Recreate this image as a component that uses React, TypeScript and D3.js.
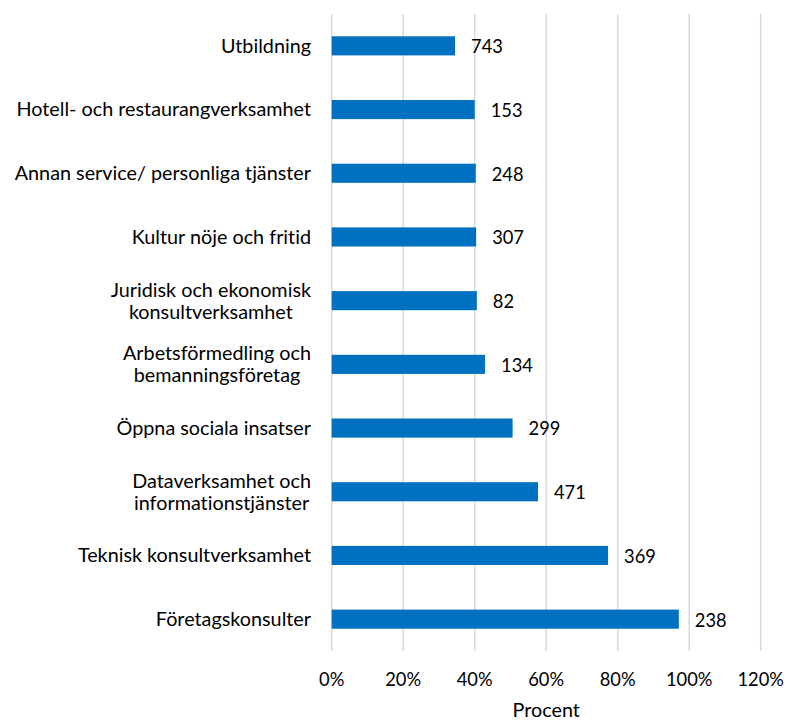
import React, { useEffect, useRef } from "react";
import * as d3 from "d3";

const categories: string[][] = [
  ["Utbildning"],
  ["Hotell- och restaurangverksamhet"],
  ["Annan service/ personliga tjänster"],
  ["Kultur nöje och fritid"],
  ["Juridisk och ekonomisk", "konsultverksamhet"],
  ["Arbetsförmedling och", "bemanningsföretag"],
  ["Öppna sociala insatser"],
  ["Dataverksamhet och", "informationstjänster"],
  ["Teknisk konsultverksamhet"],
  ["Företagskonsulter"],
];
const percentValues: number[] = [34.5, 40.0, 40.3, 40.4, 40.6, 42.9, 50.6, 57.7, 77.3, 97.1];
const countLabels: number[] = [743, 153, 248, 307, 82, 134, 299, 471, 369, 238];
const xTicks: number[] = [0, 20, 40, 60, 80, 100, 120];
const xAxisTitle = "Procent";

const W = 792;
const H = 720;
const FONT = "Lato, 'Open Sans', sans-serif";
const FS_CAT = 19.8;
const FS_NUM = 18.3;

export default function App() {
  const ref = useRef<SVGSVGElement>(null);
  useEffect(() => {
    const svg = d3.select(ref.current);
    svg.selectAll("*").remove();
    svg.style("font-variant-ligatures", "none");
    const left = 331.7, right = 760.7, top = 14, bottom = 651;
    const x = d3.scaleLinear().domain([0, 120]).range([left, right]);
    const keys = categories.map((c) => c.join(" "));
    const y = d3.scaleBand<string>().domain(keys).range([top, bottom]).paddingInner(0.7).paddingOuter(0.35);

    svg.append("rect").attr("width", W).attr("height", H).attr("fill", "#fff");

    svg.append("g").selectAll("line").data(xTicks).join("line")
      .attr("x1", (d) => x(d)).attr("x2", (d) => x(d))
      .attr("y1", top).attr("y2", bottom)
      .attr("stroke", "#d9d9d9").attr("stroke-width", 1.5);

    svg.append("g").selectAll("rect").data(percentValues).join("rect")
      .attr("x", x(0))
      .attr("y", (_d, i) => y(keys[i])!)
      .attr("width", (d) => x(d) - x(0))
      .attr("height", y.bandwidth())
      .attr("fill", "#0070C0");

    svg.append("g").selectAll("text").data(countLabels).join("text")
      .attr("x", (_d, i) => x(percentValues[i]) + 16)
      .attr("y", (_d, i) => y(keys[i])! + y.bandwidth() / 2 + 1)
      .attr("dy", "0.35em")
      .attr("font-family", FONT).attr("font-size", FS_NUM).attr("fill", "#000")
      .text((d) => String(d));

    const labelRight = 311;
    const lineH = 22;
    const gl = svg.append("g");
    categories.forEach((lines, i) => {
      const cy = y(keys[i])! + y.bandwidth() / 2;
      const texts = lines.map((ln, j) =>
        gl.append("text")
          .attr("y", cy + (j - (lines.length - 1) / 2) * lineH)
          .attr("dy", "0.35em")
          .attr("font-family", FONT).attr("font-size", FS_CAT).attr("fill", "#000")
          .attr("text-anchor", "middle")
          .text(ln)
      );
      const maxW = Math.max(...texts.map((t) => (t.node() as SVGTextElement).getComputedTextLength()));
      texts.forEach((t) => t.attr("x", labelRight - maxW / 2));
    });

    svg.append("g").selectAll("text").data(xTicks).join("text")
      .attr("x", (d) => x(d)).attr("y", 680).attr("dy", "0.35em")
      .attr("text-anchor", "middle")
      .attr("font-family", FONT).attr("font-size", FS_NUM).attr("fill", "#000")
      .text((d) => d + "%");

    svg.append("text")
      .attr("x", (left + right) / 2).attr("y", 710).attr("dy", "0.35em")
      .attr("text-anchor", "middle")
      .attr("font-family", FONT).attr("font-size", FS_CAT).attr("fill", "#000")
      .text(xAxisTitle);
  }, []);
  return (
    <svg ref={ref} width={W} height={H} style={{ position: "absolute", left: 0, top: 0 }} />
  );
}
